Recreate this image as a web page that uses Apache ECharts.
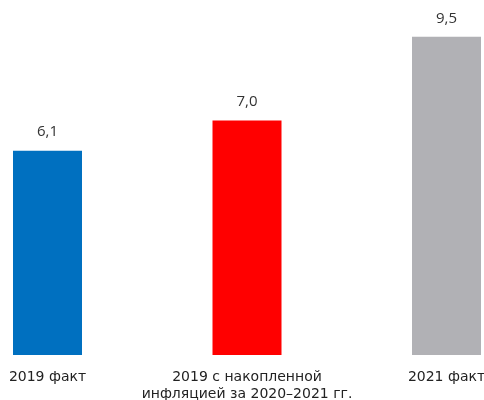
<!DOCTYPE html>
<html><head><meta charset="utf-8">
<script src="https://cdn.jsdelivr.net/npm/echarts@6/dist/echarts.min.js"></script>
<style>html,body{margin:0;padding:0;background:#fff}#c{width:484px;height:400px}</style>
</head><body><div id="c"></div>
<script>
const categories = ['2019 факт', '2019 с накопленной\nинфляцией за 2020–2021 гг.', '2021 факт'];
const values = [6.1, 7.0, 9.5];
const colors = ['#0070c0', '#ff0000', '#b1b1b5'];

const chart = echarts.init(document.getElementById('c'));
chart.setOption({
  animation: false,
  grid: { left: 47.5, right: 37.5, top: 20, bottom: 45, containLabel: false, outerBoundsMode: 'none' },
  xAxis: {
    type: 'category', data: categories, boundaryGap: false,
    axisLine: { show: false }, axisTick: { show: false },
    axisLabel: { color: '#222', fontSize: 14, fontFamily: 'DejaVu Sans', margin: 14, lineHeight: 17, interval: 0 }
  },
  yAxis: { type: 'value', min: 0, max: 10, show: false, splitLine: { show: false } },
  series: [{
    type: 'bar', clip: false, barWidth: 69,
    data: values.map((v, i) => ({ value: v, itemStyle: { color: colors[i] } })),
    label: {
      show: true, position: 'top', distance: 11, color: '#333', fontSize: 15, fontFamily: 'Open Sans',
      formatter: p => p.value.toFixed(1).replace('.', ',')
    }
  }]
});
</script></body></html>
